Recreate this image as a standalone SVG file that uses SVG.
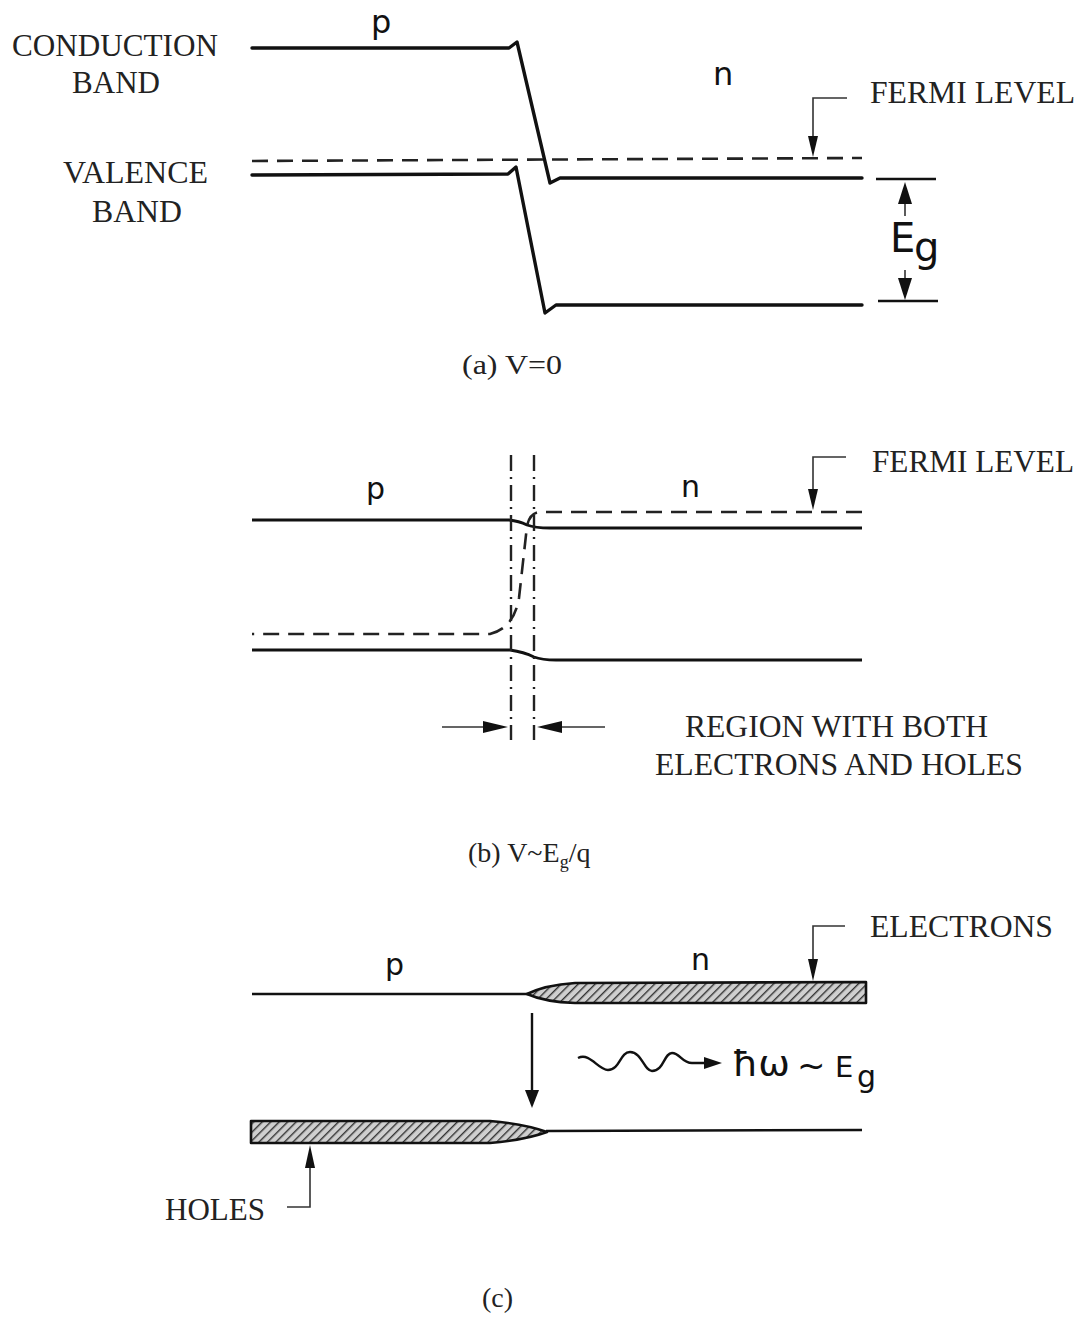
<svg xmlns="http://www.w3.org/2000/svg" width="1081" height="1317" viewBox="0 0 1081 1317">
<style>
.band{stroke:#111;stroke-width:3.4;fill:none;stroke-linejoin:round;stroke-linecap:round}
.bandb{stroke:#111;stroke-width:2.8;fill:none;stroke-linejoin:round}
.thin{stroke:#111;stroke-width:2.4;fill:none}
.dash{stroke:#222;stroke-width:2.6;fill:none;stroke-dasharray:16 9}
.dashdot{stroke:#222;stroke-width:2.4;fill:none;stroke-dasharray:16 6 2 6}
.leader{stroke:#333;stroke-width:1.6;fill:none}
.head{fill:#111;stroke:none}
.lbl{font-family:"Liberation Serif","Times New Roman",serif;font-size:31px;fill:#222}
.cap{font-family:"Liberation Serif","Times New Roman",serif;font-size:28px;fill:#222}
.hand{font-family:"DejaVu Sans","Liberation Sans",sans-serif;fill:#111}
.hatchfill{fill:url(#hatch);stroke:#111;stroke-width:2.6;stroke-linejoin:round}
</style>
<defs>
<pattern id="hatch" patternUnits="userSpaceOnUse" width="6" height="6" patternTransform="rotate(45)">
<rect width="6" height="6" fill="#cfcfcf"/>
<line x1="0" y1="0" x2="0" y2="6" stroke="#333" stroke-width="2.8"/>
</pattern>
</defs>

<!-- (a) V=0 -->
<g id="panel-a">
<g id="a-conduction"><path class="band" d="M252,48 L509,48 L517,42 L550,183 L560,178 L862,178"/></g>
<g id="a-valence"><path class="band" d="M252,175 L508,174 L516,167 L545,313 L556,305 L862,305"/></g>
<g id="a-fermi"><path class="dash" d="M252,161 L862,158"/></g>
<g id="a-eg">
<path class="thin" d="M876,179 H936 M878,301 H938"/>
<path class="head" d="M905,182 L898,204 L912,204 Z"/>
<path class="leader" d="M905,204 V216 M905,270 V282"/>
<path class="head" d="M905,300 L898,278 L912,278 Z"/>
<text class="hand" x="890" y="252" font-size="40">E</text>
<text class="hand" x="914" y="261" font-size="40">g</text>
</g>
<text class="hand" x="371" y="33" font-size="32">p</text>
<text class="hand" x="713" y="85" font-size="32">n</text>
<text class="lbl" x="12" y="56" textLength="206" lengthAdjust="spacingAndGlyphs">CONDUCTION</text>
<text class="lbl" x="72" y="93" textLength="88" lengthAdjust="spacingAndGlyphs">BAND</text>
<text class="lbl" x="63" y="183" textLength="145" lengthAdjust="spacingAndGlyphs">VALENCE</text>
<text class="lbl" x="92" y="222" textLength="90" lengthAdjust="spacingAndGlyphs">BAND</text>
<text class="lbl" x="870" y="103" textLength="205" lengthAdjust="spacingAndGlyphs">FERMI LEVEL</text>
<text class="cap" x="462" y="374" textLength="100" lengthAdjust="spacingAndGlyphs">(a) V=0</text>
</g>

<!-- (b) V~Eg/q -->
<g id="panel-b">
<g id="b-conduction"><path class="bandb" d="M252,520 L509,520 Q519,521 527,525 Q535,528 550,528 L862,528"/></g>
<g id="b-valence"><path class="bandb" d="M252,650 L510,650 Q524,652 534,657 Q542,660 556,660 L862,660"/></g>
<g id="b-fermi"><path class="dash" d="M862,512 L541,512 Q530,512 527,526 L519,598 Q514,628 490,634 L252,634"/></g>
<g id="b-region">
<path class="dashdot" d="M511,455 V740 M534,455 V740"/>
<path class="leader" d="M442,727 H484 M560,727 H605"/>
<path class="head" d="M508,727 L483,721 L483,733 Z"/>
<path class="head" d="M537,727 L562,721 L562,733 Z"/>
</g>
<text class="hand" x="366" y="499" font-size="30">p</text>
<text class="hand" x="681" y="497" font-size="30">n</text>
<text class="lbl" x="872" y="472" textLength="202" lengthAdjust="spacingAndGlyphs">FERMI LEVEL</text>
<text class="lbl" x="685" y="737" textLength="303" lengthAdjust="spacingAndGlyphs">REGION WITH BOTH</text>
<text class="lbl" x="655" y="775" textLength="368" lengthAdjust="spacingAndGlyphs">ELECTRONS AND HOLES</text>
<text class="cap" x="468" y="862">(b) V~E<tspan font-size="18" dy="6">g</tspan><tspan dy="-6">/q</tspan></text>
</g>

<!-- (c) -->
<g id="panel-c">
<g id="c-conduction">
<path class="thin" d="M252,994 L528,994"/>
<path class="hatchfill" d="M527,994 Q545,985 575,983 L866,982 L866,1003 L575,1003 Q545,1002 527,994 Z"/>
</g>
<g id="c-valence">
<path class="hatchfill" d="M251,1121 L490,1121 Q525,1124 547,1132 Q525,1140 490,1143 L251,1143 Z"/>
<path class="thin" d="M546,1131 L862,1130"/>
</g>
<g id="c-transition">
<path class="thin" d="M532,1013 V1094"/>
<path class="head" d="M532,1108 L525,1090 L539,1090 Z"/>
</g>
<g id="c-photon">
<path class="thin" d="M578,1058 C590,1052 598,1070 608,1070 C620,1070 620,1052 630,1052 C642,1052 644,1071 652,1071 C664,1071 664,1053 672,1053 C680,1053 682,1063 692,1063 L708,1063"/>
<path class="head" d="M722,1063 L704,1057 L704,1069 Z"/>
<text class="hand" x="732" y="1076" font-size="35" textLength="58" lengthAdjust="spacingAndGlyphs">ħω</text>
<text class="hand" x="797" y="1077" font-size="34">~</text>
<text class="hand" x="835" y="1077" font-size="29">E</text>
<text class="hand" x="857" y="1087" font-size="30">g</text>
</g>
<text class="hand" x="385" y="975" font-size="30">p</text>
<text class="hand" x="691" y="970" font-size="30">n</text>
<text class="lbl" x="870" y="937" textLength="183" lengthAdjust="spacingAndGlyphs">ELECTRONS</text>
<text class="lbl" x="165" y="1220" textLength="100" lengthAdjust="spacingAndGlyphs">HOLES</text>
<text class="cap" x="482" y="1307">(c)</text>
</g>

<!-- leader connectors -->
<g id="connectors">
<path class="leader" d="M847,98 H813 V140"/>
<path class="head" d="M813,157 L808,136 L818,136 Z"/>
<path class="leader" d="M846,457 H813 V492"/>
<path class="head" d="M813,510 L808,489 L818,489 Z"/>
<path class="leader" d="M845,926 H813 V962"/>
<path class="head" d="M813,981 L808,959 L818,959 Z"/>
<path class="leader" d="M287,1207 H310 V1166"/>
<path class="head" d="M310,1145 L305,1168 L315,1168 Z"/>
</g>
</svg>
